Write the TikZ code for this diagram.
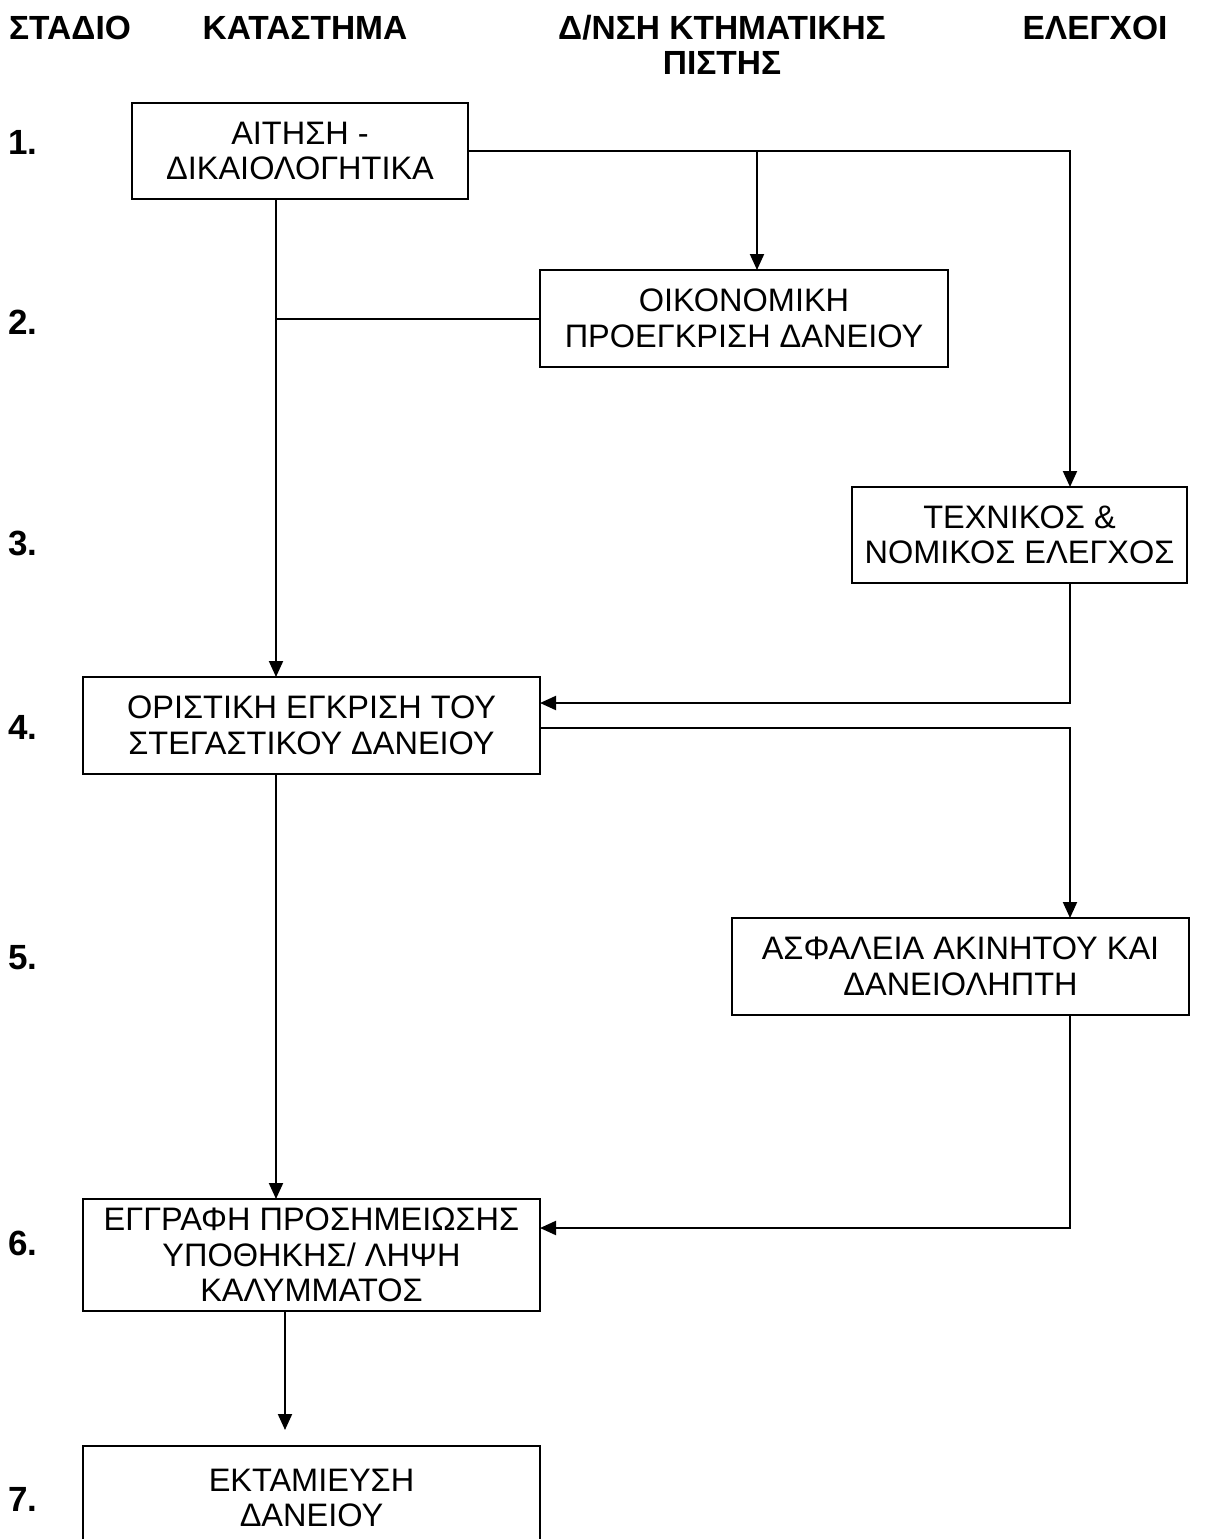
\documentclass[tikz,border=0pt]{standalone}
\usepackage{fontspec}
\setmainfont{Liberation Sans}
\usetikzlibrary{arrows.meta}
\tikzset{
  box/.style={draw, line width=1.3pt, inner sep=0pt, outer sep=0pt, align=center,
    font=\fontsize{32.5}{35.5}\selectfont},
  hdr/.style={inner sep=0pt, align=center, font=\fontsize{33.5}{35}\selectfont\bfseries},
  stg/.style={inner sep=0pt, anchor=west, font=\fontsize{35}{36}\selectfont\bfseries},
  conn/.style={line width=2pt},
  arr/.style={line width=2pt, -{Triangle[length=16pt,width=14pt]}}
}
\begin{document}
\begin{tikzpicture}[x=1pt,y=-1pt]
\useasboundingbox (0,0) rectangle (1213,1539);
% headers
\node[hdr] (h1) at (70,28) {ΣΤΑΔΙΟ};
\node[hdr] (h2) at (305,28) {ΚΑΤΑΣΤΗΜΑ};
\node[hdr] (h3) at (722,45) {Δ/ΝΣΗ ΚΤΗΜΑΤΙΚΗΣ\\ΠΙΣΤΗΣ};
\node[hdr] (h4) at (1095,28) {ΕΛΕΓΧΟΙ};
% stage numbers
\node[stg] (s1) at (8,142) {1.};
\node[stg] (s2) at (8,322) {2.};
\node[stg] (s3) at (8,543) {3.};
\node[stg] (s4) at (8,727) {4.};
\node[stg] (s5) at (8,958) {5.};
\node[stg] (s6) at (8,1243) {6.};
\node[stg] (s7) at (8,1499) {7.};
% boxes
\node[box, minimum width=336pt, minimum height=96pt] (B1) at (300,151) {ΑΙΤΗΣΗ -\\ΔΙΚΑΙΟΛΟΓΗΤΙΚΑ};
\node[box, minimum width=408pt, minimum height=97pt] (B2) at (744,318.5) {ΟΙΚΟΝΟΜΙΚΗ\\ΠΡΟΕΓΚΡΙΣΗ ΔΑΝΕΙΟΥ};
\node[box, minimum width=335pt, minimum height=96pt] (B3) at (1019.5,535) {ΤΕΧΝΙΚΟΣ \&\\ΝΟΜΙΚΟΣ ΕΛΕΓΧΟΣ};
\node[box, minimum width=457pt, minimum height=97pt] (B4) at (311.5,725.5) {ΟΡΙΣΤΙΚΗ ΕΓΚΡΙΣΗ ΤΟΥ\\ΣΤΕΓΑΣΤΙΚΟΥ ΔΑΝΕΙΟΥ};
\node[box, minimum width=457pt, minimum height=97pt] (B5) at (960.5,966.5) {ΑΣΦΑΛΕΙΑ ΑΚΙΝΗΤΟΥ ΚΑΙ\\ΔΑΝΕΙΟΛΗΠΤΗ};
\node[box, minimum width=457pt, minimum height=112pt] (B6) at (311.5,1255) {ΕΓΓΡΑΦΗ ΠΡΟΣΗΜΕΙΩΣΗΣ\\ΥΠΟΘΗΚΗΣ/ ΛΗΨΗ\\ΚΑΛΥΜΜΑΤΟΣ};
\node[box, minimum width=457pt, minimum height=104pt] (B7) at (311.5,1498) {ΕΚΤΑΜΙΕΥΣΗ\\ΔΑΝΕΙΟΥ};
% helper coordinates
\coordinate (xa) at (276,0);
\coordinate (xb) at (757,0);
\coordinate (xc) at (1070,0);
\coordinate (xd) at (285,0);
\coordinate (ya) at (0,703);
\coordinate (yc) at (0,728);
\coordinate (yd) at (0,1228);
% connectors
\draw[arr] (B1.east) -| (xc |- B3.north);
\draw[arr] (xb |- B1.east) -- (xb |- B2.north);
\draw[arr] (xa |- B1.south) -- (xa |- B4.north);
\draw[conn] (xa |- B2.west) -- (B2.west);
\draw[arr] (xc |- B3.south) |- (B4.east |- ya);
\draw[arr] (B4.east |- yc) -| (xc |- B5.north);
\draw[arr] (xa |- B4.south) -- (xa |- B6.north);
\draw[arr] (xc |- B5.south) |- (B6.east |- yd);
\draw[arr, shorten >=16pt] (xd |- B6.south) -- (xd |- B7.north);
\end{tikzpicture}
\end{document}
